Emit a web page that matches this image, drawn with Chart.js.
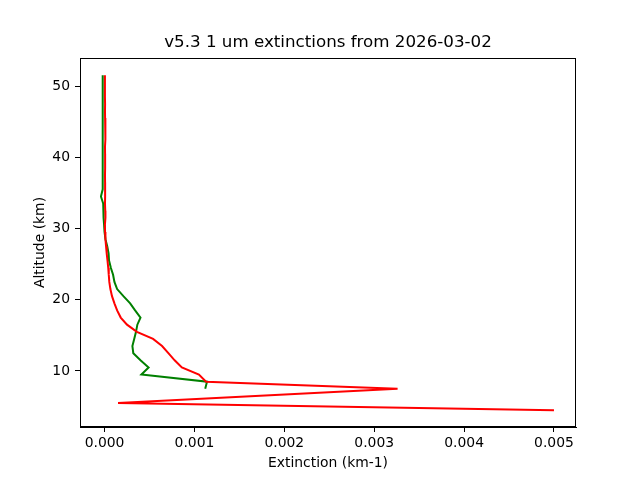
<!DOCTYPE html>
<html>
<head>
<meta charset="utf-8">
<script src="https://cdn.jsdelivr.net/npm/chart.js@4"></script>
<style>
  html, body { margin: 0; padding: 0; background: #fff; }
</style>
</head>
<body>
<canvas id="myChart" width="640" height="480"></canvas>
<script>
// altitude levels (km), top to bottom
const altitudeKm = [51.5, 50.5, 49.5, 48.5, 47.5, 46.5, 45.5, 44.5, 43.5, 42.5,
  41.5, 40.5, 39.5, 38.5, 37.5, 36.5, 35.5, 34.5, 33.5, 32.5,
  31.5, 30.5, 29.5, 28.5, 27.5, 26.5, 25.5, 24.5, 23.5, 22.5,
  21.5, 20.5, 19.5, 18.5, 17.5, 16.5, 15.5, 14.5, 13.5, 12.5,
  11.5, 10.5, 9.5, 8.5, 7.5, 6.5, 5.5, 4.5];

// red profile (km-1)
const redExt = [0.000004, 0.000004, 0.000005, 0.000004, 0.000006, 0.000005, 0.000006, 0.000008, 0.000014, 0.000006,
  0.000005, 0.000006, 0.000007, 0.000006, 0.000005, 0.000006, 0.000007, 0.000006, 0.000005, 0.000008,
  0.000010, 0.000004, 0.000006, 0.000010, 0.000017, 0.000024, 0.000033, 0.000041, 0.000047, 0.000053,
  0.000065, 0.000083, 0.00011, 0.00014, 0.00018, 0.00025, 0.00036, 0.00054, 0.00064, 0.00071,
  0.00078, 0.00086, 0.00105, 0.00113, 0.00326, null, 0.00015, 0.00500];

// green profile (km-1)
const greenExt = [-0.00002, -0.00002, -0.00002, -0.000022, -0.00002, -0.000018, -0.00002, -0.00002, -0.000022, -0.00002,
  -0.00002, -0.000018, -0.00002, -0.00002, -0.000022, -0.00002, -0.000025, -0.00004, -0.000015, -0.000012,
  -0.00001, -0.000005, 0.0, 0.00001, 0.00003, 0.000045, 0.00005, 0.00007, 0.000095, 0.00011,
  0.00014, 0.00021, 0.000285, 0.00034, 0.00040, 0.000365, 0.00035, 0.00033, 0.00031, 0.00032,
  0.00040, 0.00049, 0.00041, 0.00114, 0.00112, null, null, null];

const xTicks = [0, 0.001, 0.002, 0.003, 0.004, 0.005];
const yTicks = [10, 20, 30, 40, 50];

const chartTitle = "v5.3 1 um extinctions from 2026-03-02";

function toPoints(values) {
  return altitudeKm.map((alt, i) => ({ x: values[i], y: alt }));
}

const tickFont = { family: "DejaVu Sans", size: 13.9 };

// matplotlib-like frame and title
const framePlugin = {
  id: "frame",
  afterDraw(chart) {
    const { ctx, chartArea: a } = chart;
    ctx.save();
    ctx.strokeStyle = "#000";
    ctx.lineWidth = 1;
    ctx.strokeRect(a.left + 0.5, a.top + 0.5, a.right - a.left - 1, a.bottom - a.top - 1);
    ctx.fillStyle = "#000";
    ctx.font = "16.7px 'DejaVu Sans'";
    ctx.textAlign = "center";
    ctx.textBaseline = "middle";
    ctx.fillText(chartTitle, (a.left + a.right) / 2, 43);
    ctx.restore();
  }
};

const ctx = document.getElementById("myChart").getContext("2d");
const myChart = new Chart(ctx, {
  type: "scatter",
  data: {
    datasets: [
      {
        label: "red",
        data: toPoints(redExt),
        showLine: true,
        spanGaps: true,
        borderColor: "#ff0000",
        backgroundColor: "#ff0000",
        borderWidth: 2,
        pointRadius: 0,
        tension: 0
      },
      {
        label: "green",
        data: toPoints(greenExt),
        showLine: true,
        spanGaps: false,
        borderColor: "#008000",
        backgroundColor: "#008000",
        borderWidth: 2,
        pointRadius: 0,
        tension: 0
      }
    ]
  },
  options: {
    responsive: false,
    animation: false,
    devicePixelRatio: 1,
    layout: { padding: { top: 58, right: 64, left: 0, bottom: 0 } },
    plugins: {
      legend: { display: false },
      tooltip: { enabled: false },
      title: { display: false }
    },
    scales: {
      x: {
        type: "linear",
        min: -0.000273,
        max: 0.005245,
        afterBuildTicks: (scale) => { scale.ticks = xTicks.map(v => ({ value: v })); },
        afterFit: (scale) => { scale.height = 53; },
        ticks: {
          color: "#000",
          font: tickFont,
          padding: 3,
          maxRotation: 0,
          callback: (v) => Number(v).toFixed(3)
        },
        grid: { drawOnChartArea: false, color: "#000", tickLength: 5 },
        border: { color: "#000", width: 1 },
        title: {
          display: true,
          text: "Extinction (km-1)",
          color: "#000",
          font: tickFont,
          padding: { top: 0, bottom: 8.7 }
        }
      },
      y: {
        type: "linear",
        min: 2.14,
        max: 53.93,
        afterBuildTicks: (scale) => { scale.ticks = yTicks.map(v => ({ value: v })); },
        afterFit: (scale) => { scale.width = 80; },
        ticks: {
          color: "#000",
          font: tickFont,
          padding: 5,
          callback: (v) => String(v)
        },
        grid: { drawOnChartArea: false, color: "#000", tickLength: 5 },
        border: { color: "#000", width: 1 },
        title: {
          display: true,
          text: "Altitude (km)",
          color: "#000",
          font: tickFont,
          padding: { top: 32, bottom: 0 }
        }
      }
    }
  },
  plugins: [framePlugin]
});
</script>
</body>
</html>
